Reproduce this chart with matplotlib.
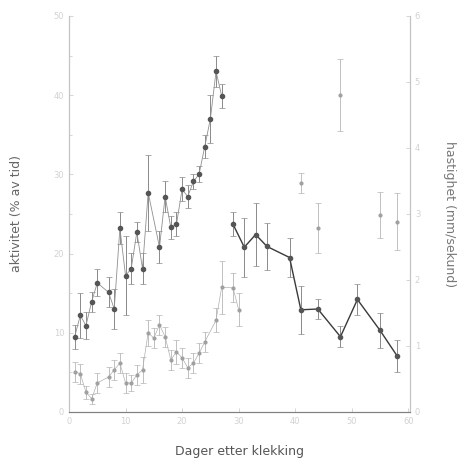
import matplotlib
matplotlib.use("Agg")
import matplotlib.pyplot as plt
import numpy as np

# aktivitet (% av tid), mean and spread per day
akt_dager = [1, 2, 3, 4, 5, 7, 8, 9, 10, 11, 12, 13, 14, 16, 17, 18, 19, 20,
             21, 22, 23, 24, 25, 26, 27, 29, 31, 33, 35, 39, 41, 44, 48, 51, 55, 58]
akt = [9.5, 12.2, 10.9, 13.9, 16.3, 15.1, 13.0, 23.2, 17.2, 18.1, 22.7, 18.1, 27.7,
       20.8, 27.2, 23.3, 23.7, 28.1, 27.2, 29.1, 30.0, 33.5, 37.0, 43.0, 39.9,
       23.7, 20.8, 22.4, 20.9, 19.5, 12.9, 13.0, 9.5, 14.2, 10.3, 7.1]
akt_feil = [1.5, 2.8, 1.7, 1.3, 1.7, 1.9, 2.5, 2.0, 5.0, 2.0, 1.3, 2.0, 4.8,
            2.0, 2.0, 1.5, 1.5, 1.5, 1.5, 1.0, 1.0, 1.5, 3.0, 2.0, 1.5,
            1.5, 3.7, 4.0, 3.0, 2.4, 3.0, 1.3, 1.3, 2.0, 2.2, 2.0]

# hastighet (mm/sekund)
fart_dager = [1, 2, 3, 4, 5, 7, 8, 9, 10, 11, 12, 13, 14, 15, 16, 17, 18, 19, 20,
              21, 22, 23, 24, 26, 27, 29, 30, 41, 44, 48, 55, 58]
fart = [0.61, 0.58, 0.30, 0.20, 0.44, 0.53, 0.64, 0.74, 0.44, 0.44, 0.56, 0.64,
        1.20, 1.12, 1.32, 1.14, 0.79, 0.91, 0.82, 0.67, 0.74, 0.89, 1.06, 1.39,
        1.89, 1.88, 1.55, 3.47, 2.79, 4.80, 2.98, 2.88]
fart_feil = [0.15, 0.15, 0.10, 0.08, 0.15, 0.15, 0.15, 0.15, 0.15, 0.12, 0.15,
             0.20, 0.20, 0.15, 0.15, 0.15, 0.15, 0.18, 0.15, 0.15, 0.15, 0.15,
             0.15, 0.18, 0.40, 0.22, 0.25, 0.15, 0.38, 0.55, 0.35, 0.43]

ad = np.array(akt_dager)
av = np.array(akt)
fd = np.array(fart_dager)
fv = np.array(fart)

fig = plt.figure(figsize=(4.71, 4.66), dpi=100)
ax = fig.add_axes([0.1465, 0.1159, 0.724, 0.85])
ax2 = ax.twinx()

# points with error bars
ax.errorbar(akt_dager, akt, yerr=akt_feil, fmt="o", color="#555555",
            ecolor="#8a8a8a", elinewidth=0.7, capsize=2, capthick=0.5,
            markersize=3)
ax2.errorbar(fart_dager, fart, yerr=fart_feil, fmt="o", color="#a0a0a0",
             ecolor="#b5b5b5", elinewidth=0.6, capsize=2, capthick=0.5,
             markersize=2)

# connecting lines, broken where days are missing in the runs
ax.plot(ad[ad <= 27], av[ad <= 27], color="#8f8f8f", linewidth=0.6)
ax.plot(ad[ad >= 29], av[ad >= 29], color="#3a3a3a", linewidth=1.0)
ax2.plot(fd[fd <= 30], fv[fd <= 30], color="#b0b0b0", linewidth=0.5)

ax.set_xlim(0, 60.3)
ax.set_ylim(0, 50)
ax2.set_ylim(0, 6)

ax.set_xticks([0, 10, 20, 30, 40, 50, 60])
ax.set_yticks([0, 10, 20, 30, 40, 50])
ax.set_yticks(np.arange(5, 50, 10), minor=True)
ax2.set_yticks([0, 1, 2, 3, 4, 5, 6])

for a in (ax, ax2):
    a.spines["top"].set_visible(False)
    for s in ("left", "right"):
        a.spines[s].set_color("#c4c4c4")
    a.spines["bottom"].set_color("#808080")
    a.tick_params(colors="#cfcfcf", labelcolor="#d2d2d2", labelsize=6,
                  length=3, width=0.6, direction="in")
    a.tick_params(which="minor", colors="#cfcfcf", length=2, direction="in")

ax.set_xlabel("Dager etter klekking", fontsize=9, color="#555555", labelpad=14)
ax.set_ylabel("aktivitet (% av tid)", fontsize=9, color="#666666", labelpad=22)
ax2.set_ylabel("hastighet (mm/sekund)", fontsize=9, color="#777777",
               rotation=270, labelpad=26)

plt.savefig("out.png", dpi=100)
